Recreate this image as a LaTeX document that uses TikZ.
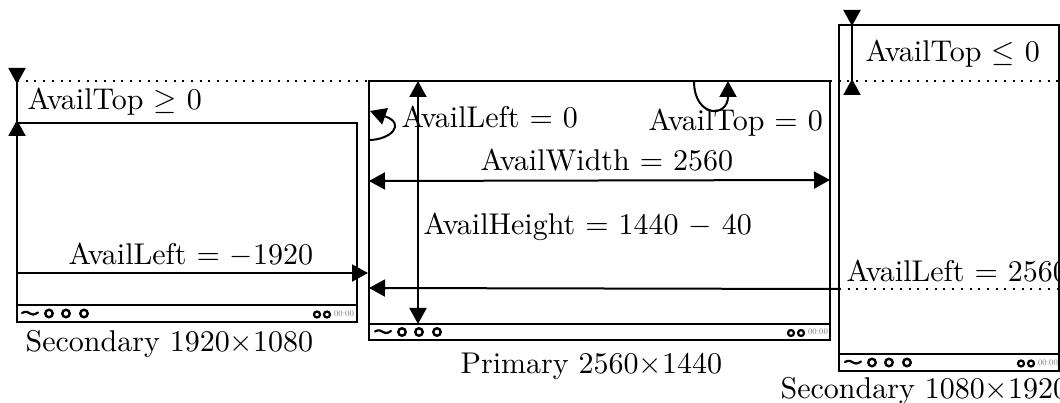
\documentclass[tikz,border=0pt]{standalone}
\usetikzlibrary{arrows.meta}
\tikzset{
  x=1pt,y=-1pt,
  lbl/.style={inner sep=0pt,anchor=base west,scale=3,transform shape},
  screen/.style={draw=black,line width=2.4pt,inner sep=0pt,outer sep=0pt,anchor=north west},
  conn/.style={line width=2pt,-{Triangle[length=16pt,width=17pt]}},
  both/.style={line width=2pt,{Triangle[length=16pt,width=17pt]}-{Triangle[length=16pt,width=17pt]}},
  outer/.style={line width=2pt,{Triangle[length=16pt,width=17pt,reversed]}-{Triangle[length=16pt,width=17pt,reversed]}},
  dot/.style={line width=2pt,dash pattern=on 2pt off 6.7pt},
  ring/.style={draw=black,line width=2.4pt,circle,minimum size=7.5pt,inner sep=0pt},
  smallring/.style={draw=black,line width=2.2pt,circle,minimum size=6pt,inner sep=0pt},
  clock/.style={inner sep=0pt,text=black!55,font=\fontsize{8.5}{10}\selectfont},
  wave/.style={line width=2.2pt,line cap=round},
  pics/bar/.style args={#1/#2}{code={
    \draw[wave] (0,-0.5) .. controls (4,-3) and (7,-1) .. (8,0) .. controls (9,1) and (12,2) .. (16,-1);
    \node[ring] (#1a) at (27,0) {};
    \node[ring] (#1b) at (44,0) {};
    \node[ring] (#1c) at (62,0) {};
    \node[smallring] (#1d) at (#2-27,1) {};
    \node[smallring] (#1e) at (#2-17,1) {};
    \node[clock] (#1f) at (#2,0) {00:00};
  }},
}
\begin{document}
\begin{tikzpicture}
\useasboundingbox (0,0) rectangle (1060,403);
% screens
\node[screen,minimum width=340pt,minimum height=199pt] (sl) at (17,123) {};
\node[screen,minimum width=461pt,minimum height=259pt] (sp) at (369,81) {};
\node[screen,minimum width=220pt,minimum height=346pt] (sr) at (839,25) {};
% taskbars
\node[screen,minimum width=340pt,minimum height=17pt] (tl) at (17,305) {};
\node[screen,minimum width=461pt,minimum height=16pt] (tp) at (369,324) {};
\node[screen,minimum width=220pt,minimum height=17pt] (tr) at (839,354) {};
\pic at (22,313.5) {bar=L/322};
\pic at (375,332) {bar=P/443};
\pic at (845,362.5) {bar=R/203};
% named coordinates
\coordinate (dl) at (17,81);
\coordinate (dr) at (1060,81);
\coordinate (dm) at (839,289);
\coordinate (de) at (1060,289);
\coordinate (la) at (17,68);
\coordinate (lb) at (17,136);
\coordinate (ra) at (852,10);
\coordinate (rb) at (852,95);
% dotted
\draw[dot] (dl) -- (sp.north west);
\draw[dot] (sp.north east) -- (dr);
\draw[dot] (dm) -- (de);
% arrows
\draw[outer] (la) -- (lb);
\draw[outer] (ra) -- (rb);
\coordinate (a1) at (17,273);\coordinate (a2) at (368,273);
\draw[conn] (a1) -- (a2);
\coordinate (b1) at (839,289);\coordinate (b2) at (369,288);
\draw[conn] (b1) -- (b2);
\coordinate (c1) at (369,181);\coordinate (c2) at (830,180);
\draw[both] (c1) -- (c2);
\coordinate (d1) at (418,81);\coordinate (d2) at (418,324);
\draw[both] (d1) -- (d2);
\coordinate (e1) at (369,140);\coordinate (e2) at (370,111);
\draw[conn] (e1) .. controls (390,140) and (407,124) .. (e2);
\coordinate (f1) at (694,81);\coordinate (f2) at (728,81);
\draw[conn] (f1) .. controls (694,118) and (728,118) .. (f2);
% labels
\node[lbl] (t1) at (27,110) {AvailTop $\geq$ 0};
\node[lbl] (t2) at (401,128) {AvailLeft $=$ 0};
\node[lbl] (t3) at (648,131) {AvailTop $=$ 0};
\node[lbl] (t4) at (480,171) {AvailWidth $=$ 2560};
\node[lbl] (t5) at (423,235) {AvailHeight $=$ 1440 $-$ 40};
\node[lbl] (t6) at (68,265) {AvailLeft $=$ $-$1920};
\node[lbl] (t7) at (846,282) {AvailLeft $=$ 2560};
\node[lbl] (t8) at (865,62) {AvailTop $\leq$ 0};
\node[lbl] (t9) at (25,351) {Secondary 1920$\times$1080};
\node[lbl] (t10) at (460,373) {Primary 2560$\times$1440};
\node[lbl] (t11) at (780,398) {Secondary 1080$\times$1920};
\end{tikzpicture}
\end{document}
